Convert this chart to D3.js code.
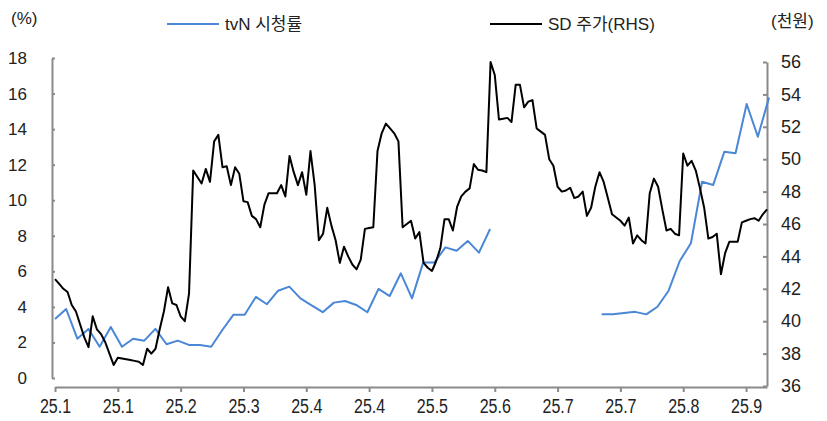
<!DOCTYPE html>
<html>
<head>
<meta charset="utf-8">
<script src="https://cdn.jsdelivr.net/npm/d3@7"></script>
<style>
  body { margin: 0; background: #fff; }
  svg text { font-family: "Liberation Sans", "Noto Sans CJK KR", sans-serif; fill: #222; }
</style>
</head>
<body>
<div id="chart"></div>
<script>
// tvN ratings (%), two episodes a week; null = no drama airing
var tvnRating = [3.32, 3.88, 2.21, 2.76, 1.76, 2.87, 1.76, 2.21, 2.10, 2.76,
                 1.90, 2.10, 1.86, 1.86, 1.76, 2.70, 3.56, 3.56, 4.56, 4.15,
                 4.91, 5.14, 4.48, 4.09, 3.70, 4.24, 4.33, 4.11, 3.70, 5.01,
                 4.61, 5.89, 4.48, 6.49, 6.49, 7.35, 7.16, 7.71, 7.05, 8.38,
                 null, null, null, null, null, null, null, null, null,
                 3.58, 3.58, 3.65, 3.72, 3.58, 4.01, 4.91, 6.58, 7.58, 11.04,
                 10.86, 12.73, 12.64, 15.41, 13.57, 15.77];

// SD share price (thousand won), daily
var sdPrice = [42.6, 42.3, 42.0, 41.8, 41.0, 40.6, 39.8, 39.0, 38.4, 40.3,
               39.5, 39.2, 38.7, 38.0, 37.3, 37.75, 37.7, 37.65, 37.6, 37.55,
               37.5, 37.3, 38.3, 38.0, 38.3, 39.5, 40.6, 42.1, 41.1, 41.0,
               40.3, 40.0, 41.7, 49.3, 48.9, 48.5, 49.4, 48.6, 51.1, 51.5,
               49.5, 49.56, 48.4, 49.5, 49.1, 47.4, 47.35, 46.5, 46.3, 45.8,
               47.2, 47.9, 47.9, 47.9, 48.4, 47.7, 50.2, 49.2, 48.4, 49.2,
               47.8, 50.5, 48.4, 45.0, 45.4, 47.0, 45.9, 45.0, 43.6, 44.6,
               44.0, 43.5, 43.2, 43.8, 45.7, 45.75, 45.8, 50.5, 51.6, 52.2,
               51.9, 51.6, 51.1, 45.8, 46.0, 46.2, 45.1, 45.5, 43.6, 43.3,
               43.1, 43.7, 44.5, 46.3, 46.3, 45.6, 47.05, 47.7, 48.0, 48.2,
               49.7, 49.35, 49.3, 49.2, 56.0, 55.2, 52.45, 52.5, 52.55, 52.3,
               54.6, 54.6, 53.2, 53.55, 53.65, 51.9, 51.7, 51.5, 50.0, 49.6,
               48.3, 48.0, 48.07, 48.24, 47.6, 47.7, 48.0, 46.5, 47.0, 48.3,
               49.2, 48.6, 47.6, 46.6, 46.4, 46.2, 45.9, 46.4, 44.8, 45.3,
               45.0, 44.8, 47.9, 48.8, 48.3, 46.9, 45.6, 45.7, 45.4, 45.3,
               50.35, 49.6, 49.9, 49.3, 48.2, 47.0, 45.1, 45.2, 45.4, 42.9,
               44.2, 44.9, 44.9, 44.9, 46.1, 46.2, 46.3, 46.36, 46.2, 46.6,
               46.9];

// x tick labels, one every 15 trading days
var tickLabels = ['25.1','25.1','25.2','25.3','25.4','25.4','25.5','25.6','25.7','25.7','25.8','25.9'];
var tickStep = 15;

var leftTicks = [0,2,4,6,8,10,12,14,16,18];
var rightTicks = [36,38,40,42,44,46,48,50,52,54,56];

var width = 827, height = 421;
var blue = '#4a87d6', axisGrey = '#8a8a8a';

var svg = d3.select('#chart').append('svg')
    .attr('width', width)
    .attr('height', height);

// scales
var x = d3.scaleLinear().domain([0, sdPrice.length - 1]).range([55, 767]);
var xEp = d3.scaleLinear().domain([0, tvnRating.length - 1]).range([55, 769]);
var yL = d3.scaleLinear().domain([0, 18]).range([378, 58]);
var yR = d3.scaleLinear().domain([36, 56]).range([386, 62]);

// axes
var gL = svg.append('g')
    .attr('transform', 'translate(52,0)')
    .call(d3.axisLeft(yL).tickValues(leftTicks).tickSize(-3).tickSizeOuter(0).tickPadding(25));

var gR = svg.append('g')
    .attr('transform', 'translate(767,0)')
    .call(d3.axisRight(yR).tickValues(rightTicks).tickSize(-4).tickSizeOuter(0).tickPadding(14));

var gB = svg.append('g')
    .attr('transform', 'translate(0,387)')
    .call(d3.axisBottom(x)
        .tickValues(tickLabels.map(function(d, i) { return i * tickStep; }))
        .tickFormat(function(d, i) { return tickLabels[i]; })
        .tickSize(5).tickSizeOuter(0).tickPadding(7));

[gL, gR, gB].forEach(function(g) {
    g.selectAll('path, line').attr('stroke', axisGrey).attr('stroke-width', 2);
    g.selectAll('text')
      .attr('font-family', '"Liberation Sans", sans-serif')
      .attr('font-size', 17)
      .attr('fill', '#222');
});
gR.selectAll('text').attr('font-size', 18);
// condensed-looking date labels
gB.selectAll('text')
    .attr('font-size', 20)
    .attr('transform', 'scale(0.8,1)');

// lines
var ratingLine = d3.line()
    .defined(function(d) { return d !== null; })
    .x(function(d, i) { return xEp(i); })
    .y(function(d) { return yL(d); });

var priceLine = d3.line()
    .x(function(d, i) { return x(i); })
    .y(function(d) { return yR(d); });

svg.append('path')
    .datum(tvnRating)
    .attr('d', ratingLine)
    .attr('fill', 'none')
    .attr('stroke', blue)
    .attr('stroke-width', 2)
    .attr('stroke-linejoin', 'round');

svg.append('path')
    .datum(sdPrice)
    .attr('d', priceLine)
    .attr('fill', 'none')
    .attr('stroke', '#000')
    .attr('stroke-width', 2)
    .attr('stroke-linejoin', 'round');

// units
svg.append('text')
    .attr('x', 11).attr('y', 24)
    .attr('font-size', 17)
    .text('(%)');

svg.append('text')
    .attr('x', 771).attr('y', 27)
    .attr('font-size', 17)
    .text('(천원)');

// legend
var legend = [
    {name: 'tvN 시청률', color: blue, x: 167},
    {name: 'SD 주가(RHS)', color: '#000', x: 490}
];

legend.forEach(function(l) {
    svg.append('line')
      .attr('x1', l.x).attr('x2', l.x + 52)
      .attr('y1', 24).attr('y2', 24)
      .attr('stroke', l.color)
      .attr('stroke-width', 2);
    svg.append('text')
      .attr('x', l.x + 58).attr('y', 30)
      .attr('font-size', 17)
      .text(l.name);
});
</script>
</body>
</html>
